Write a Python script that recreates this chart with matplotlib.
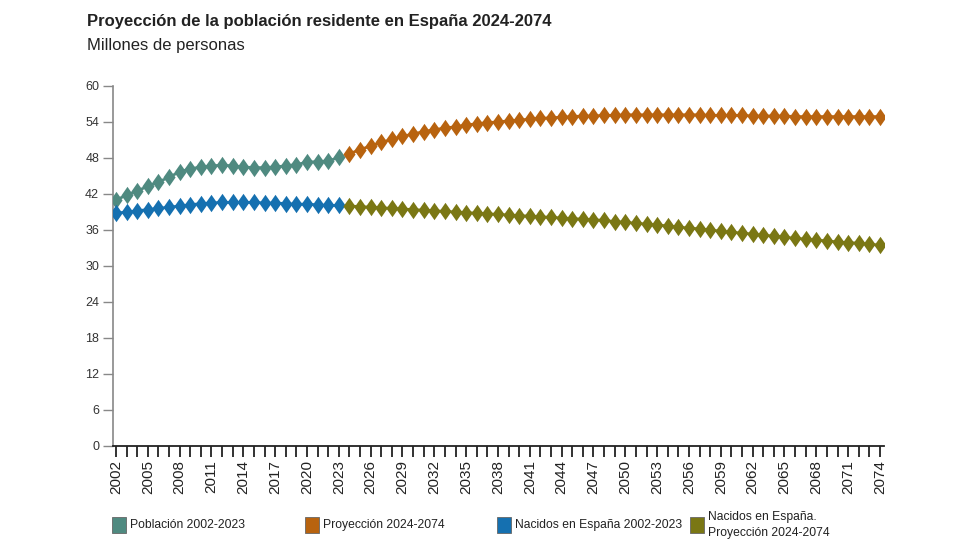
import matplotlib
matplotlib.use("Agg")
import matplotlib.pyplot as plt
from matplotlib.path import Path
from matplotlib.patches import Rectangle
import numpy as np

plt.rcParams['font.family'] = ['Liberation Sans', 'DejaVu Sans']

years_hist = list(range(2002, 2024))
years_proj = list(range(2024, 2075))

poblacion = [41.0, 41.8, 42.5, 43.3, 44.0, 44.8, 45.7, 46.2, 46.5, 46.7, 46.8,
             46.7, 46.5, 46.4, 46.4, 46.5, 46.7, 46.9, 47.3, 47.4, 47.5, 48.1]
nacidos = [38.8, 39.0, 39.2, 39.4, 39.6, 39.8, 40.0, 40.2, 40.4, 40.5, 40.6,
           40.6, 40.6, 40.6, 40.5, 40.5, 40.4, 40.3, 40.3, 40.2, 40.1, 40.1]
proyeccion = [48.7, 49.4, 50.0, 50.6, 51.1, 51.6, 52.0, 52.4, 52.7, 53.0,
              53.2, 53.5, 53.7, 53.9, 54.0, 54.2, 54.3, 54.5, 54.6, 54.7,
              54.8, 54.9, 55.0, 55.0, 55.1, 55.1, 55.2, 55.2, 55.2, 55.2,
              55.2, 55.2, 55.2, 55.2, 55.1, 55.1, 55.1, 55.1, 55.0, 55.0,
              55.0, 55.0, 54.9, 54.9, 54.9, 54.9, 54.9, 54.9, 54.9, 54.9, 54.9]
nacidos_proy = [40.0, 39.9, 39.8, 39.7, 39.6, 39.5, 39.4, 39.3, 39.2, 39.1,
                39.0, 38.9, 38.8, 38.7, 38.6, 38.5, 38.4, 38.3, 38.2, 38.1,
                38.0, 37.9, 37.8, 37.7, 37.6, 37.4, 37.3, 37.1, 37.0, 36.8,
                36.7, 36.5, 36.3, 36.2, 36.0, 35.8, 35.6, 35.5, 35.3, 35.1,
                35.0, 34.8, 34.6, 34.5, 34.3, 34.2, 34.0, 33.9, 33.8, 33.6, 33.5]

labels = ["Población 2002-2023", "Proyección 2024-2074",
          "Nacidos en España 2002-2023", "Nacidos en España.\nProyección 2024-2074"]
colors = ["#4F8A80", "#B8630F", "#1570B0", "#7A7714"]

diamond = Path([(0, 1), (0.7, 0), (0, -1), (-0.7, 0), (0, 1)],
               [Path.MOVETO, Path.LINETO, Path.LINETO, Path.LINETO, Path.CLOSEPOLY])

fig = plt.figure(figsize=(9.8, 5.6), dpi=100)
ax = fig.add_axes([113/980, 1-446/560, 771/980, 360/560])

series = [(years_hist, poblacion), (years_proj, proyeccion),
          (years_hist, nacidos), (years_proj, nacidos_proy)]
for (xs, ys), c in zip(series, colors):
    ax.plot(xs, ys, color=c, lw=2, marker=diamond, markersize=12.5,
            markeredgewidth=0, zorder=3)

ax.set_ylim(0, 60)
ax.set_yticks(range(0, 61, 6))
ax.set_xlim(2001.72, 2074.38)
ax.set_xticks(range(2002, 2075, 3))
ax.set_xticks(range(2002, 2075), minor=True)
ax.tick_params(axis='x', which='both', direction='out', length=8, width=1.3,
               color='#222222')
ax.tick_params(axis='x', which='major', labelrotation=90, labelsize=11,
               labelcolor='#222222', pad=2)
ax.tick_params(axis='y', length=7, width=1, color='#888888', labelsize=9,
               labelcolor='#333333', pad=3)
for s in ['top', 'right']:
    ax.spines[s].set_visible(False)
ax.spines['left'].set_color('#888888')
ax.spines['left'].set_linewidth(1.2)
ax.spines['bottom'].set_color('#222222')
ax.spines['bottom'].set_linewidth(1.3)

fig.text(87/980, 1-26/560, "Proyección de la población residente en España 2024-2074",
         fontsize=12, fontweight='bold', color='#222222', va='baseline')
fig.text(87/980, 1-50/560, "Millones de personas",
         fontsize=12, color='#222222', va='baseline')

leg_x = [112, 305, 497, 690]
for x0, lab, c in zip(leg_x, labels, colors):
    fig.patches.append(Rectangle((x0/980, 1-533/560), 14/980, 16/560,
                                 transform=fig.transFigure, facecolor=c,
                                 edgecolor='#666666', lw=0.6))
    fig.text((x0+18)/980, 1-525/560, lab, fontsize=8.7, color='#222222',
             va='center', ha='left', linespacing=1.5,
             family=['Liberation Sans Narrow', 'Liberation Sans', 'DejaVu Sans'])

fig.savefig("out.png", dpi=100, facecolor='white')
